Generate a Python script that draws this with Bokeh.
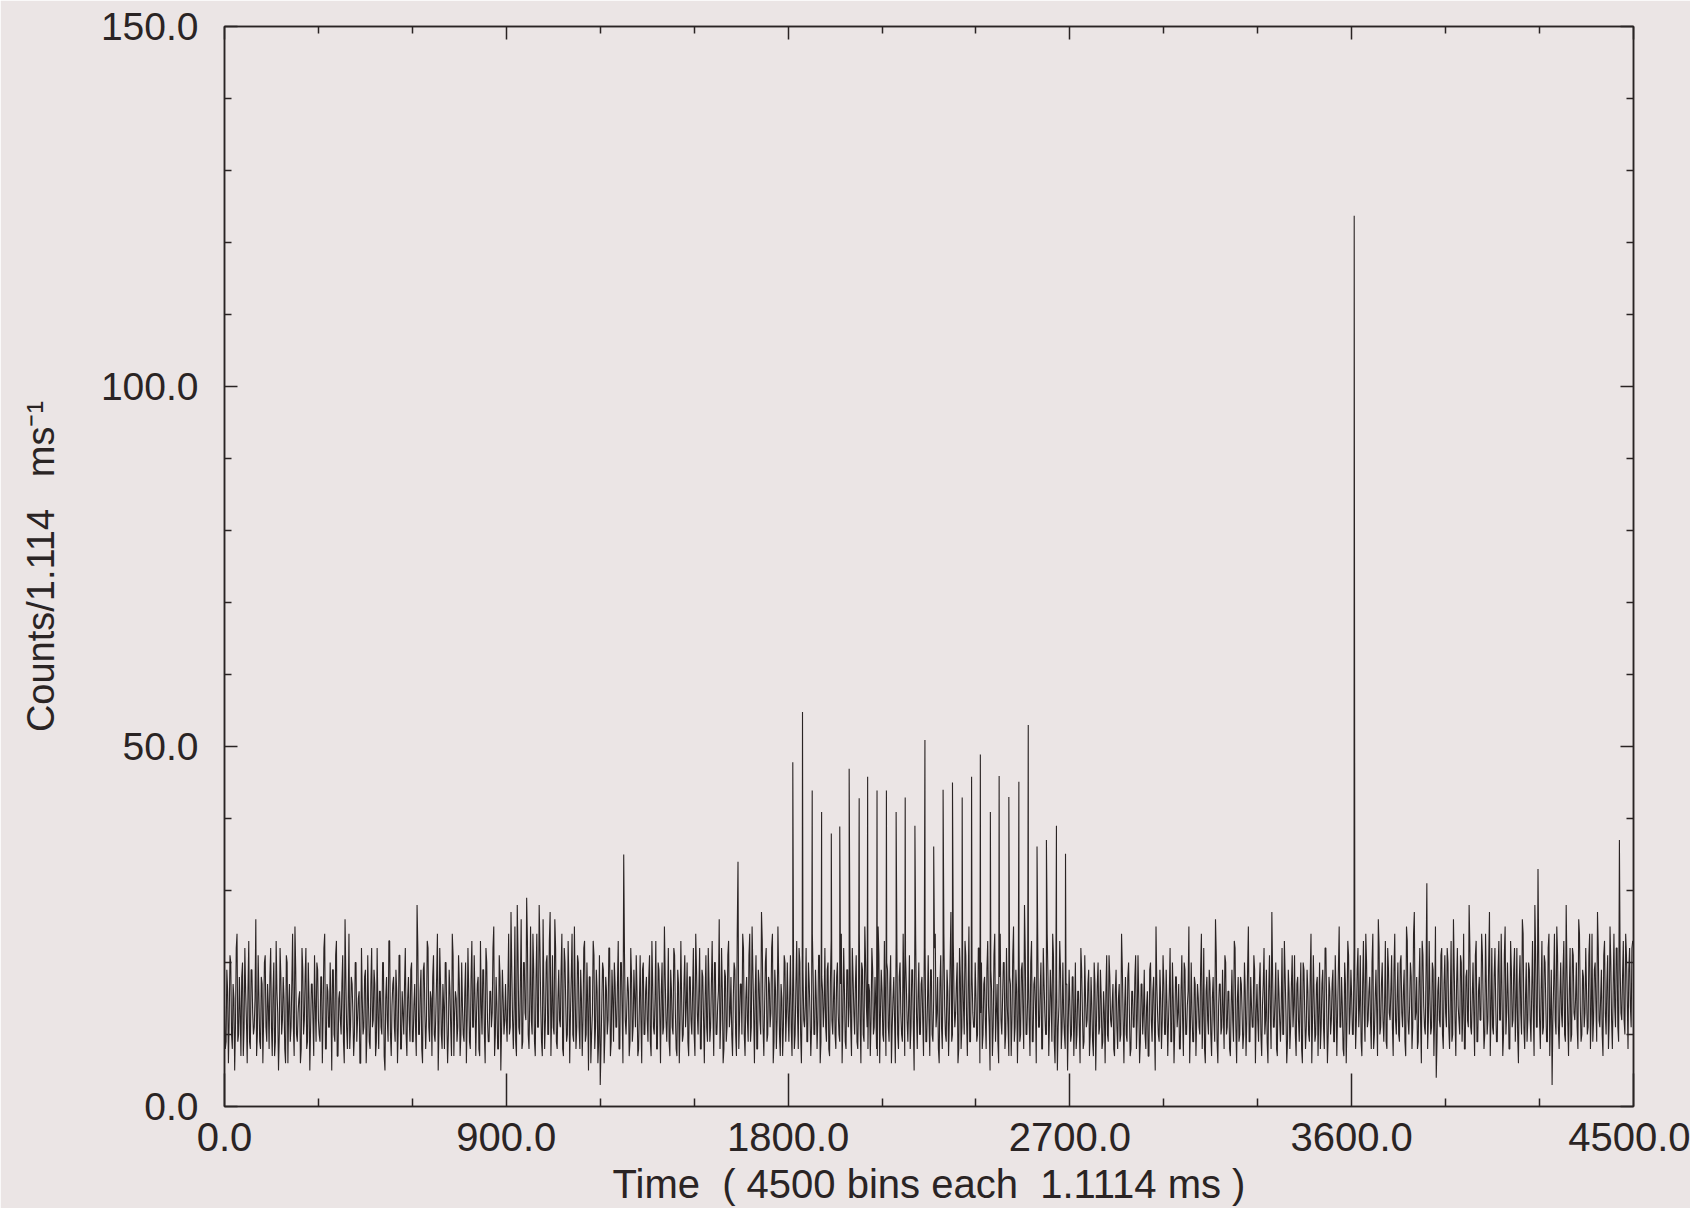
from bokeh.plotting import figure
from bokeh.models import (Range1d, LinearAxis, FixedTicker, NumeralTickFormatter,
                          CustomJSTickFormatter, ColumnDataSource)
from bokeh.embed import file_html
from bokeh.resources import INLINE

# ---- data ----
BIN_STEP = 5  # one sample every 5 bins (series A at 0,5,..; series B at 2.5,7.5,..)
noise_rows = [
    [14,9,16,12,20,8,15,11,24,10,13,18,7,22,12,16,9,19,13,11,26,10,15,8,17,12,21,9,14,18],
    [11,16,7,23,13,10,18,12,15,6,20,14,9,17,11,25,10,13,16,8,19,12,22,9,15,11,17,7,14,20],
    [12,9,18,13,24,8,16,11,14,19,10,21,7,15,12,17,9,26,11,14,8,18,13,10,20,12,16,6,15,11],
    [19,10,14,8,22,12,17,9,13,16,11,20,7,15,12,23,10,14,18,9,16,11,21,8,13,17,10,15,12,19],
    [9,14,11,28,10,16,8,19,13,12,22,9,15,18,10,13,24,11,17,8,14,20,12,10,16,7,21,13,15,11],
    [17,10,14,9,20,12,16,8,23,11,15,13,18,7,14,19,10,22,12,9,16,13,25,10,14,8,18,11,15,12],
    [12,16,10,27,12,14,9,28,11,17,8,20,13,29,10,15,12,24,9,18,11,28,14,7,16,12,21,10,27,13],
    [11,26,9,15,12,19,8,22,14,10,17,13,24,9,16,11,20,8,15,12,23,10,14,18,6,13,21,11,16,9],
    [3,14,19,10,16,12,22,9,15,20,11,17,8,20,13,35,12,14,16,9,18,11,15,21,7,14,12,19,10,16],
    [12,18,9,23,11,15,8,20,13,16,10,25,12,14,9,19,11,22,13,7,17,12,15,10,21,14,9,18,12,16],
    [10,24,13,16,8,19,12,15,11,22,9,17,13,20,10,14,26,12,16,8,18,11,23,13,10,15,19,7,34,12],
    [17,24,10,15,12,21,9,25,13,16,8,19,12,27,11,14,22,10,17,13,24,9,16,12,18,7,15,11,20,13],
    [13,15,11,19,8,17,13,22,10,16,12,14,9,20,13,11,18,10,15,12,21,9,16,14,11,19,8,17,12,15],
    [10,18,13,9,24,12,16,8,19,14,11,22,13,17,9,15,12,20,10,25,14,8,16,12,19,11,14,7,21,13],
    [16,9,14,20,11,17,6,15,12,23,10,18,13,9,16,21,12,14,8,19,11,26,13,15,10,17,12,22,9,14],
    [12,19,10,15,24,13,8,17,11,21,14,9,16,12,27,10,15,13,20,8,18,11,14,23,12,16,9,19,13,11],
    [15,10,22,13,8,17,12,19,14,5,16,11,24,13,9,18,12,15,20,10,14,7,17,12,25,11,16,13,9,19],
    [13,28,10,15,12,20,9,17,14,26,11,16,8,22,13,10,18,12,15,24,9,16,5,14,19,11,13,8,17,12],
    [14,10,18,12,8,16,11,22,13,9,15,12,19,10,14,7,17,12,20,11,15,9,13,16,10,21,12,14,8,16],
    [11,15,9,24,12,14,10,18,13,8,16,11,21,12,15,9,17,13,10,14,7,19,12,16,11,25,13,9,15,12],
    [17,10,14,12,22,9,15,11,18,13,8,16,12,20,10,14,25,11,13,9,17,12,15,10,24,13,8,16,12,19],
    [10,15,12,26,9,14,17,11,13,21,10,16,8,14,12,23,11,15,9,18,13,10,16,12,25,9,14,11,19,13],
    [12,17,10,14,22,12,9,16,13,27,11,15,8,19,12,14,10,23,13,9,16,11,21,14,10,17,12,15,8,20],
    [13,11,16,9,24,12,15,10,18,13,8,17,11,22,14,10,16,12,19,9,15,13,25,11,14,7,17,12,21,13],
    [15,10,18,12,22,14,9,17,13,24,11,16,12,20,8,15,13,26,10,17,12,14,9,22,13,16,11,19,12,15],
    [10,20,13,16,9,25,12,14,18,11,27,13,8,17,12,23,14,10,31,12,15,11,19,13,4,16,12,21,10,17],
    [13,22,11,15,9,26,12,17,14,10,20,13,8,18,12,28,11,15,13,21,9,16,12,24,14,10,17,12,27,13],
    [11,18,14,9,23,12,16,10,25,13,15,8,19,12,22,14,10,17,13,26,11,15,9,20,12,16,13,28,11,33],
    [12,16,10,21,14,9,24,13,3,17,12,25,11,15,13,19,10,28,12,16,9,22,13,15,11,26,14,10,18,13],
    [16,11,24,13,9,19,14,27,12,15,10,21,13,17,8,25,12,16,14,22,11,37,13,18,12,24,15,19,14,22],
]
noise_rows_b = [
    [8,19,6,21,10,17,5,22,9,18,7,20,11,16,6,23,8,19,10,15,7,21,9,18,6,20,11,17,8,22],
    [7,20,9,16,5,22,10,18,8,21,6,17,11,24,7,19,9,15,6,22,10,18,8,20,5,17,12,21,9,19],
    [10,18,6,22,8,17,11,20,5,19,9,23,7,16,10,21,6,18,8,24,11,17,7,20,9,15,6,22,10,18],
    [6,21,9,17,11,19,7,22,8,16,10,20,5,18,9,23,7,17,11,19,6,21,8,16,10,22,7,18,9,20],
    [9,17,7,22,10,19,6,20,8,23,11,16,7,21,9,18,5,22,10,17,8,20,6,19,11,24,7,16,9,21],
    [7,20,10,16,6,22,9,18,11,21,7,17,8,23,10,19,6,20,9,16,11,22,7,18,8,21,5,19,10,17],
    [9,24,11,19,8,25,7,21,10,26,9,20,12,23,8,25,10,19,7,24,11,22,9,26,8,20,10,23,7,21],
    [10,22,8,19,11,24,7,20,9,23,6,18,10,25,8,21,11,19,7,22,9,20,5,18,10,23,8,19,6,21],
    [8,20,6,18,10,22,7,19,9,17,11,23,8,20,6,21,10,18,7,22,9,19,11,16,8,21,6,20,10,18],
    [9,21,7,17,10,23,8,19,6,20,11,18,9,22,7,16,10,21,8,19,6,23,9,17,11,20,7,18,10,22],
    [7,19,10,22,8,18,6,21,9,17,11,23,7,20,10,16,8,22,6,19,9,21,11,18,7,20,10,24,8,17],
    [10,22,7,18,9,24,11,19,6,21,8,17,10,23,7,20,9,18,11,22,6,19,8,25,10,17,7,21,9,20],
    [9,21,7,18,10,23,8,20,6,19,11,22,9,17,7,24,10,19,8,21,6,18,11,22,9,20,7,23,10,19],
    [8,20,10,17,6,22,9,19,11,23,7,18,10,21,8,24,6,19,9,20,11,17,7,22,10,18,8,25,6,19],
    [10,23,7,19,9,21,11,18,6,22,8,20,10,24,7,17,9,21,11,19,5,23,8,20,10,18,7,22,9,21],
    [7,19,9,22,11,18,6,21,8,24,10,19,7,20,9,23,11,17,6,22,8,19,10,21,7,25,9,18,11,20],
    [9,22,6,20,10,18,8,23,11,19,7,21,9,17,6,24,10,20,8,22,11,18,7,21,9,19,6,23,10,20],
    [8,21,10,19,7,23,9,18,6,22,11,20,8,17,10,24,7,19,9,21,6,18,11,23,8,20,10,17,5,19],
    [9,18,7,20,10,16,6,19,8,21,11,17,7,18,9,20,5,17,10,19,8,16,6,21,9,18,11,17,7,19],
    [8,17,10,19,6,18,9,20,7,16,11,18,8,21,6,17,10,19,8,16,7,20,9,18,5,17,10,19,8,21],
    [10,19,7,16,9,20,6,18,11,17,8,21,7,19,10,16,6,20,9,18,7,17,11,19,8,22,6,18,10,17],
    [7,18,9,21,6,17,10,19,8,20,11,16,7,19,9,22,6,18,10,17,8,20,7,19,9,18,11,21,6,17],
    [9,20,7,17,10,19,6,21,8,18,11,20,7,16,9,22,10,18,6,19,8,17,11,21,7,18,9,20,6,19],
    [8,19,10,18,6,21,9,17,7,20,11,19,8,22,6,18,10,17,9,21,7,19,11,18,8,20,6,23,10,19],
    [10,22,8,19,11,21,7,23,9,20,12,18,8,24,10,19,7,22,11,20,9,23,8,19,12,21,7,24,10,20],
    [9,21,11,19,7,23,10,20,8,24,12,18,9,22,6,21,11,19,8,23,10,20,7,25,9,18,11,22,8,21],
    [11,20,8,23,10,19,7,22,12,21,9,24,8,19,11,22,10,20,7,23,9,18,12,21,8,24,10,20,7,22],
    [10,22,9,19,12,24,7,21,10,20,8,23,11,19,9,22,6,21,10,24,8,20,12,19,9,23,7,21,11,20],
    [8,23,11,20,9,22,7,19,12,24,10,21,8,20,11,23,9,19,7,22,10,21,12,20,8,24,9,19,11,22],
    [10,21,8,24,12,20,9,22,11,19,7,23,10,21,12,20,8,24,11,22,9,19,12,23,10,21,8,22,11,23],
]

# pulse spikes (bin, counts)
spike_bins = [1815, 1846, 1877, 1907, 1938, 1965, 1995, 2027, 2054, 2084,
              2114, 2145, 2174, 2205, 2237, 2265, 2295, 2325, 2356, 2386,
              2414, 2446, 2474, 2505, 2537, 2567, 2595, 2625, 2657, 2686, 3608]
spike_counts = [47.8, 54.8, 43.9, 40.9, 37.9, 38.9, 46.9, 42.8, 45.8, 43.9,
                43.9, 40.9, 42.9, 39.0, 50.9, 36.1, 44.0, 45.0, 42.9, 45.8,
                48.9, 40.9, 45.9, 43.0, 45.1, 53.0, 36.1, 37.0, 39.0, 35.1, 123.7]

x_ticks = [0, 900, 1800, 2700, 3600, 4500]
y_ticks = [0, 50, 100, 150]

# ---- build the series ----
vals_a = [v for row in noise_rows for v in row]
bins_a = [i * BIN_STEP for i in range(len(vals_a))]
vals_b = [v for row in noise_rows_b for v in row]
bins_b = [i * BIN_STEP + BIN_STEP / 2 for i in range(len(vals_b))]
pts = sorted(list(zip(bins_a, vals_a)) + list(zip(bins_b, vals_b))
             + list(zip(spike_bins, spike_counts)), key=lambda t: t[0])
pts = [t for t in pts if t[0] <= 4500]
src = ColumnDataSource(data=dict(x=[t[0] for t in pts], y=[t[1] for t in pts]))

BG = "#ebe5e5"
INK = "#2a2424"
FONT = "Liberation Sans"

p = figure(frame_width=1409, frame_height=1080, output_backend="svg",
           toolbar_location=None, x_range=Range1d(0, 4500), y_range=Range1d(0, 150),
           min_border_left=224, min_border_top=26, min_border_right=57,
           min_border_bottom=89, x_axis_location=None, y_axis_location=None)
p.background_fill_color = BG
p.border_fill_color = BG
p.outline_line_color = INK
p.outline_line_width = 1.5
p.grid.visible = False

p.line("x", "y", source=src, line_color=INK, line_width=1.1)

minor_x = [t for t in range(0, 4501, 300) if t % 900 != 0]
minor_y = [t for t in range(0, 151, 10) if t % 50 != 0]
xt = FixedTicker(ticks=x_ticks, minor_ticks=minor_x)
yt = FixedTicker(ticks=y_ticks, minor_ticks=minor_y)
empty = CustomJSTickFormatter(code="return ''")


def style(ax, major_in, minor_in):
    ax.axis_line_color = INK
    ax.axis_line_width = 1.5
    ax.major_tick_line_color = INK
    ax.minor_tick_line_color = INK
    ax.major_tick_line_width = 1.5
    ax.minor_tick_line_width = 1.5
    ax.major_tick_in = major_in
    ax.major_tick_out = 0
    ax.minor_tick_in = minor_in
    ax.minor_tick_out = 0
    ax.major_label_text_font = FONT
    ax.major_label_text_color = INK
    ax.axis_label_text_font = FONT
    ax.axis_label_text_font_style = "normal"
    ax.axis_label_text_color = INK


bottom = LinearAxis(ticker=xt, formatter=NumeralTickFormatter(format="0.0"),
                    axis_label="Time\u00a0\u00a0( 4500 bins each\u00a0\u00a01.1114 ms )")
style(bottom, 33, 8)
bottom.major_label_text_font_size = "40px"
bottom.major_label_standoff = 16
bottom.axis_label_text_font_size = "40px"
bottom.axis_label_standoff = 8
p.add_layout(bottom, "below")

left = LinearAxis(ticker=yt, formatter=NumeralTickFormatter(format="0.0"),
                  axis_label="Counts/1.114\u00a0\u00a0\u00a0ms\u207b\u00b9")
style(left, 13, 7)
left.major_label_text_font_size = "39px"
left.major_label_standoff = 26
left.axis_label_text_font_size = "38px"
left.axis_label_standoff = 36
p.add_layout(left, "left")

top = LinearAxis(ticker=xt, formatter=empty)
style(top, 13, 7)
top.major_label_text_font_size = "1px"
top.major_label_standoff = 0
p.add_layout(top, "above")

right = LinearAxis(ticker=yt, formatter=empty)
style(right, 13, 7)
right.major_label_text_font_size = "1px"
right.major_label_standoff = 0
p.add_layout(right, "right")

open("out.html", "w").write(file_html(p, INLINE))
